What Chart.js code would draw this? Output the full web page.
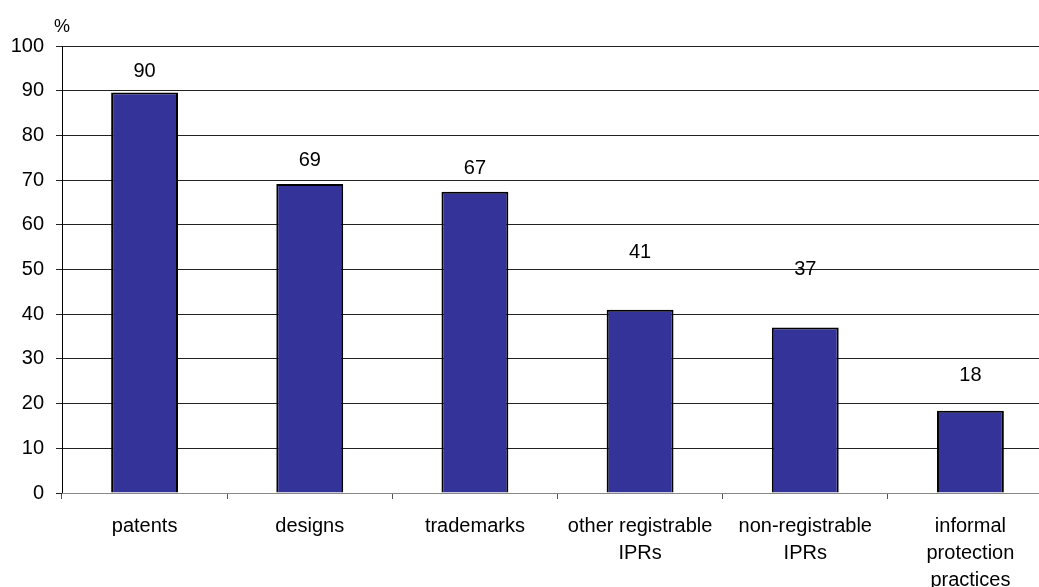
<!DOCTYPE html>
<html>
<head>
<meta charset="utf-8">
<script src="https://cdn.jsdelivr.net/npm/chart.js@4"></script>
<style>
  html, body { margin: 0; padding: 0; background: #fff; }
  #wrap { width: 1039px; height: 587px; overflow: hidden; }
</style>
</head>
<body>
<div id="wrap"><canvas id="chart" width="1062" height="587"></canvas></div>
<script>
const categories = ['patents', 'designs', 'trademarks', ['other registrable', 'IPRs'], ['non-registrable', 'IPRs'], ['informal', 'protection', 'practices']];
const shares = [89.6, 69.1, 67.4, 41, 37, 18.4];
const yTicks = [0, 10, 20, 30, 40, 50, 60, 70, 80, 90, 100];

const FONT = '"Liberation Sans", Arial, sans-serif';

// pixel lift of each value label above its bar (Excel placed them unevenly)
const labelLift = [21, 24, 23, 57, 58, 35];

const valueLabels = {
    id: 'valueLabels',
    afterDatasetsDraw(chart) {
        const ctx = chart.ctx;
        const meta = chart.getDatasetMeta(0);
        ctx.save();
        ctx.font = '20px ' + FONT;
        ctx.fillStyle = '#000';
        ctx.textAlign = 'center';
        ctx.textBaseline = 'middle';
        meta.data.forEach((bar, i) => {
            ctx.fillText(Math.round(shares[i]), bar.x, bar.y - labelLift[i]);
        });
        // unit label above the y axis
        ctx.font = '18px ' + FONT;
        ctx.fillText('%', chart.chartArea.left, 27);
        ctx.restore();
    }
};

new Chart(document.getElementById('chart'), {
    type: 'bar',
    data: {
        labels: categories,
        datasets: [{
            data: shares,
            backgroundColor: '#333399',
            borderColor: '#000',
            borderWidth: 2,
            barPercentage: 0.405,
            categoryPercentage: 1
        }]
    },
    options: {
        responsive: false,
        animation: false,
        layout: { padding: { top: 46, right: 9, left: 0, bottom: 0 } },
        plugins: { legend: { display: false }, tooltip: { enabled: false } },
        scales: {
            y: {
                min: 0,
                max: 100,
                afterBuildTicks: (axis) => { axis.ticks = yTicks.map(v => ({ value: v })); },
                afterFit: (axis) => { axis.width = 62; },
                ticks: { color: '#000', font: { family: FONT, size: 20 }, padding: 12 },
                grid: { color: '#222', lineWidth: 1, tickLength: 6, drawTicks: true },
                border: { color: '#000', width: 1 }
            },
            x: {
                afterFit: (axis) => { axis.height = 94; },
                ticks: { color: '#000', font: { family: FONT, size: 20, lineHeight: 1.35 }, padding: 14, maxRotation: 0, autoSkip: false },
                grid: { offset: true, drawOnChartArea: false, drawTicks: true, tickLength: 6, color: '#555' },
                border: { color: '#888', width: 1 }
            }
        }
    },
    plugins: [valueLabels]
});
</script>
</body>
</html>
